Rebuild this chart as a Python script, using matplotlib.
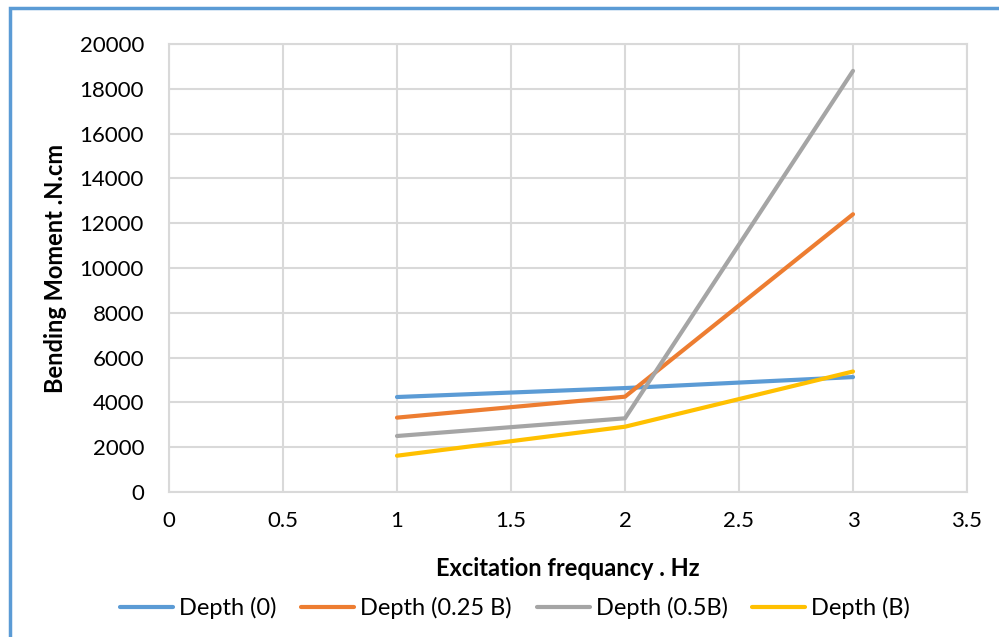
import matplotlib.pyplot as plt
from matplotlib.patches import Rectangle

plt.rcParams['font.family'] = ['Lato', 'DejaVu Sans']

freq = [1, 2, 3]
depth_0 = [4240, 4640, 5130]
depth_025 = [3320, 4255, 12400]
depth_05 = [2500, 3290, 18800]
depth_b = [1620, 2915, 5380]
labels = ["Depth (0)", "Depth (0.25 B)", "Depth (0.5B)", "Depth (B)"]
colors = ["#5b9bd5", "#ed7d31", "#a5a5a5", "#ffc000"]

fig = plt.figure(figsize=(9.99, 6.37), dpi=100)
ax = fig.add_axes([169/999, 1-492/637, (967-169)/999, (492-44)/637])

for ys, lab, c in zip([depth_0, depth_025, depth_05, depth_b], labels, colors):
    ax.plot(freq, ys, color=c, linewidth=3, label=lab, solid_capstyle='round')

ax.set_xlim(0, 3.5)
ax.set_ylim(0, 20000)
ax.set_xticks([0, 0.5, 1, 1.5, 2, 2.5, 3, 3.5])
ax.set_xticklabels(["0", "0.5", "1", "1.5", "2", "2.5", "3", "3.5"])
ax.set_yticks(range(0, 20001, 2000))
ax.grid(color="#d9d9d9", linewidth=1.5)
ax.set_axisbelow(True)
for s in ax.spines.values():
    s.set_color("#d9d9d9")
    s.set_linewidth(1.5)
ax.tick_params(length=0, labelsize=16)
ax.tick_params(axis='x', pad=14)
ax.tick_params(axis='y', pad=18)

ax.set_xlabel("Excitation frequancy . Hz", fontsize=17, fontweight='bold')
ax.set_ylabel("Bending Moment .N.cm", fontsize=17, fontweight='bold')
ax.xaxis.set_label_coords(0.5, -(557-492)/448, transform=ax.transAxes)
ax.yaxis.set_label_coords(-(169-67)/798, 0.5, transform=ax.transAxes)

fig.legend(loc='center', bbox_to_anchor=(515/999, 1-608/637), ncol=4, frameon=False,
           fontsize=17, handlelength=2.25, columnspacing=1.05, handletextpad=0.25)

fig.patches.append(Rectangle((10/999, -0.1), 1.2, 1-8/637+0.1, transform=fig.transFigure,
                             fill=False, edgecolor="#5b9bd5", linewidth=2.5))

fig.savefig("out.png", dpi=100)
